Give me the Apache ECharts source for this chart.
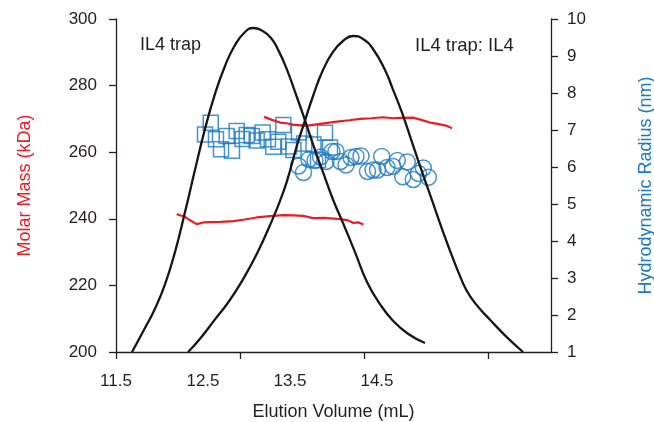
<!DOCTYPE html>
<html>
<head>
<meta charset="utf-8">
<script src="https://cdn.jsdelivr.net/npm/echarts@6/dist/echarts.min.js"></script>
<style>html,body{margin:0;padding:0;background:#fff;overflow:hidden;}#c{width:654px;height:422px;}</style>
</head>
<body>
<div id="c"></div>
<script>
// ---- data ----
const xLabelValues = [11.5, 12.5, 13.5, 14.5];
const xTickValues = [11.5, 12.925, 14.351, 15.776];

// Elution profile, IL4 trap (arbitrary units on left scale)
const peakTrapX = [11.684, 11.833, 11.948, 12.063, 12.178, 12.293, 12.408, 12.523, 12.638, 12.753, 12.868, 12.983, 13.075, 13.167, 13.282, 13.374, 13.466, 13.580, 13.672, 13.764, 13.879, 13.994, 14.098, 14.247, 14.385, 14.534, 14.684, 14.856, 15.052];
const peakTrapY = [200, 207.2, 213.0, 220.3, 230.0, 242.0, 254.7, 267.0, 277.5, 285.9, 292.2, 296.1, 297.3, 296.7, 294.3, 290.2, 284.7, 276.5, 269.6, 262.4, 254.0, 245.8, 239.4, 230.0, 221.0, 214.4, 209.4, 205.5, 202.7];
// Elution profile, IL4 trap: IL4
const peakComplexX = [12.328, 12.466, 12.638, 12.787, 12.925, 13.121, 13.305, 13.385, 13.466, 13.580, 13.672, 13.764, 13.879, 13.994, 14.109, 14.224, 14.339, 14.454, 14.592, 14.684, 14.776, 14.845, 14.971, 15.132, 15.305, 15.489, 15.569, 15.684, 15.799, 15.971, 16.178];
const peakComplexY = [200, 204.0, 209.8, 214.8, 220.3, 229.6, 240.2, 245.4, 251.4, 262.0, 269.5, 276.8, 284.7, 290.1, 293.4, 294.9, 294.0, 291.0, 284.7, 278.8, 272.7, 267.5, 257.7, 245.6, 232.8, 220.6, 216.8, 212.9, 209.7, 205.0, 200];

// Molar mass (kDa)
const massTrapX = [12.198, 12.245, 12.293, 12.360, 12.428, 12.504, 12.580, 12.700, 12.848, 12.980, 13.117, 13.270, 13.423, 13.540, 13.649, 13.764, 13.900, 14.075, 14.160, 14.224, 14.290, 14.343];
const massTrapY = [241.4, 241.0, 240.6, 239.4, 238.4, 238.9, 239.0, 239.1, 239.3, 239.8, 240.4, 240.8, 241.1, 241.0, 240.9, 240.2, 240.3, 239.9, 239.6, 238.8, 238.9, 238.3];
const massComplexX = [13.201, 13.293, 13.385, 13.460, 13.534, 13.684, 13.845, 14.040, 14.180, 14.305, 14.440, 14.569, 14.680, 14.764, 14.914, 15.010, 15.109, 15.200, 15.293, 15.362];
const massComplexY = [270.6, 269.7, 268.9, 268.7, 268.3, 267.9, 268.5, 269.2, 269.6, 270.0, 270.2, 270.5, 270.2, 270.3, 270.4, 269.7, 268.9, 268.5, 268.0, 267.2];

// Hydrodynamic radius (nm)
const rhTrapX = [12.589, 12.523, 12.649, 12.707, 12.833, 12.772, 12.887, 12.956, 13.002, 13.060, 13.117, 13.186, 13.247, 13.308, 13.366, 13.423, 13.489, 13.540, 13.603, 13.664, 13.770, 13.822, 13.902, 13.960];
const rhTrapY = [7.198, 6.879, 6.749, 6.479, 6.441, 6.838, 6.974, 6.757, 6.866, 6.838, 6.717, 6.933, 6.749, 6.549, 6.684, 7.136, 6.555, 6.460, 6.933, 6.636, 6.609, 6.190, 6.928, 6.528];
const rhComplexX = [13.598, 13.655, 13.718, 13.787, 13.851, 13.914, 13.983, 14.029, 14.080, 14.144, 14.201, 14.259, 14.316, 14.391, 14.454, 14.506, 14.554, 14.615, 14.684, 14.733, 14.795, 14.848, 14.917, 14.977, 15.032, 15.090];
const rhComplexY = [6.028, 5.852, 6.203, 6.176, 6.271, 6.149, 6.420, 6.420, 6.149, 6.055, 6.257, 6.284, 6.298, 5.879, 5.920, 5.920, 6.284, 5.987, 6.014, 6.176, 5.738, 6.136, 5.663, 5.825, 5.974, 5.722];

const annotations = ['IL4 trap', 'IL4 trap: IL4'];

// ---- build ----
const zip = (xs, ys) => xs.map((x, i) => [x, ys[i]]);
const INK = '#231f20';
const RED = '#ed1c24';
const BLUE = '#1c78c0';
const FONT = '"Liberation Sans", Arial, Helvetica, sans-serif';

const chart = echarts.init(document.getElementById('c'), null, {renderer: 'canvas'});
chart.setOption({
  animation: false,
  backgroundColor: '#fff',
  textStyle: {fontFamily: FONT},
  grid: {left: 116, right: 103, top: 19, bottom: 70, containLabel: false, outerBoundsMode: 'none'},
  graphic: [
    {type: 'text', left: 140, top: 36, style: {text: annotations[0], font: '18px ' + FONT, fill: INK}},
    {type: 'text', left: 415, top: 36, style: {text: annotations[1], font: '18.5px ' + FONT, fill: INK}}
  ],
  xAxis: {
    type: 'value', min: 11.5, max: 16.5,
    name: 'Elution Volume (mL)', nameLocation: 'middle', nameGap: 51,
    nameTextStyle: {fontSize: 18, color: INK, fontFamily: FONT},
    axisLine: {show: true, lineStyle: {color: INK, width: 1.3}},
    axisTick: {show: true, inside: false, length: 7, lineStyle: {color: INK, width: 1.3}, customValues: xTickValues},
    axisLabel: {show: true, margin: 21, fontSize: 17, color: INK, fontFamily: FONT, customValues: xLabelValues,
      formatter: v => v.toFixed(1)},
    splitLine: {show: false}
  },
  yAxis: [
    {
      type: 'value', position: 'left', min: 200, max: 300, interval: 20,
      name: 'Molar Mass (kDa)', nameLocation: 'middle', nameGap: 82, nameRotate: 90,
      nameTextStyle: {fontSize: 18, color: RED, fontFamily: FONT},
      axisLine: {show: true, lineStyle: {color: INK, width: 1.3}},
      axisTick: {show: true, length: 7, lineStyle: {color: INK, width: 1.3}},
      axisLabel: {margin: 19, fontSize: 17, color: INK, fontFamily: FONT},
      splitLine: {show: false}
    },
    {
      type: 'value', position: 'right', min: 1, max: 10, interval: 1,
      name: 'Hydrodynamic Radius (nm)', nameLocation: 'middle', nameGap: 86, nameRotate: 90,
      nameTextStyle: {fontSize: 18, color: BLUE, fontFamily: FONT},
      axisLine: {show: true, lineStyle: {color: INK, width: 1.3}},
      axisTick: {show: true, length: 7, lineStyle: {color: INK, width: 1.3}},
      axisLabel: {margin: 16, fontSize: 17, color: INK, fontFamily: FONT},
      splitLine: {show: false}
    }
  ],
  series: [
    {type: 'scatter', yAxisIndex: 1, data: zip(rhTrapX, rhTrapY), symbol: 'rect', symbolSize: 15,
      itemStyle: {color: 'rgba(0,0,0,0)', borderColor: BLUE, borderWidth: 1.5}},
    {type: 'scatter', yAxisIndex: 1, data: zip(rhComplexX, rhComplexY), symbol: 'circle', symbolSize: 16,
      itemStyle: {color: 'rgba(0,0,0,0)', borderColor: BLUE, borderWidth: 1.5}},
    {type: 'line', yAxisIndex: 0, data: zip(massTrapX, massTrapY), showSymbol: false, symbol: 'none',
      lineStyle: {color: RED, width: 2.2}},
    {type: 'line', yAxisIndex: 0, data: zip(massComplexX, massComplexY), showSymbol: false, symbol: 'none',
      lineStyle: {color: RED, width: 2.2}},
    {type: 'line', yAxisIndex: 0, data: zip(peakTrapX, peakTrapY), showSymbol: false, symbol: 'none', smooth: 0.5,
      lineStyle: {color: '#161616', width: 2.3}},
    {type: 'line', yAxisIndex: 0, data: zip(peakComplexX, peakComplexY), showSymbol: false, symbol: 'none', smooth: 0.5,
      lineStyle: {color: '#161616', width: 2.3}}
  ]
});
</script>
</body>
</html>
